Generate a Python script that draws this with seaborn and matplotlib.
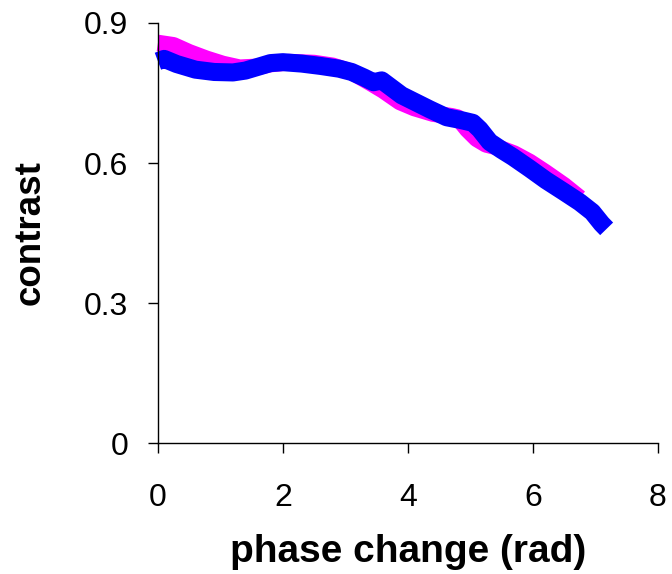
import matplotlib
matplotlib.use("Agg")
import matplotlib.pyplot as plt
import seaborn as sns

# magenta series (drawn underneath)
x_pink = [0.0, 0.25, 0.5, 0.78, 1.04, 1.31, 1.6, 1.8, 2.1, 2.5, 2.8, 3.1,
          3.4, 3.6, 3.87, 4.1, 4.4, 4.7, 4.8, 4.95, 5.1, 5.25, 5.4, 5.7,
          5.95, 6.2, 6.5, 6.75]
y_pink = [0.857, 0.852, 0.837, 0.823, 0.812, 0.804, 0.806, 0.812, 0.816,
          0.814, 0.808, 0.795, 0.772, 0.756, 0.731, 0.718, 0.706, 0.700,
          0.697, 0.672, 0.652, 0.640, 0.635, 0.620, 0.602, 0.580, 0.552,
          0.525]

# blue series (on top)
x_blue = [0.0, 0.1, 0.3, 0.6, 0.9, 1.2, 1.4, 1.6, 1.8, 2.0, 2.3, 2.6, 2.9,
          3.1, 3.3, 3.45, 3.58, 3.7, 3.9, 4.08, 4.35, 4.62, 4.85, 5.04,
          5.15, 5.31, 5.5, 5.68, 5.95, 6.21, 6.5, 6.75, 6.95, 7.1, 7.18]
y_blue = [0.818, 0.823, 0.812, 0.800, 0.795, 0.794, 0.798, 0.806, 0.814,
          0.816, 0.813, 0.808, 0.802, 0.795, 0.783, 0.773, 0.777, 0.765,
          0.745, 0.733, 0.715, 0.698, 0.692, 0.686, 0.672, 0.645, 0.628,
          0.613, 0.588, 0.563, 0.538, 0.516, 0.495, 0.470, 0.459]

x_ticks = [0, 2, 4, 6, 8]
y_ticks = [0, 0.3, 0.6, 0.9]
y_tick_labels = ["0", "0.3", "0.6", "0.9"]

sns.set_style("ticks")
plt.rcParams['font.family'] = ['Liberation Sans', 'DejaVu Sans']
plt.rcParams['text.color'] = 'black'
plt.rcParams['axes.labelcolor'] = 'black'

fig = plt.figure(figsize=(6.72, 5.74), dpi=100)
ax = fig.add_axes([0.235, 0.228, 0.744, 0.732])

sns.lineplot(x=x_pink, y=y_pink, color='#FF00FF', linewidth=12, ax=ax,
             solid_capstyle='butt', solid_joinstyle='round', clip_on=False)
sns.lineplot(x=x_blue, y=y_blue, color='#0000FF', linewidth=13, ax=ax,
             solid_capstyle='butt', solid_joinstyle='round', clip_on=False)

ax.set_xlim(0, 8)
ax.set_ylim(0, 0.9)
ax.set_xticks(x_ticks)
ax.set_xticklabels([str(t) for t in x_ticks])
ax.set_yticks(y_ticks)
ax.set_yticklabels(y_tick_labels)

for side in ['top', 'right']:
    ax.spines[side].set_visible(False)
for side in ['left', 'bottom']:
    ax.spines[side].set_color('black')
    ax.spines[side].set_linewidth(1)

ax.tick_params(axis='both', direction='out', length=7.5, width=1,
               color='black', labelsize=23, labelcolor='black')
ax.tick_params(axis='x', pad=21)
ax.tick_params(axis='y', pad=14)

ax.set_xlabel('phase change (rad)', fontsize=28, fontweight='bold',
              color='black', labelpad=15)
ax.set_ylabel('contrast', fontsize=26.5, fontweight='bold',
              color='black', labelpad=26)

fig.savefig('out.png', dpi=100)
